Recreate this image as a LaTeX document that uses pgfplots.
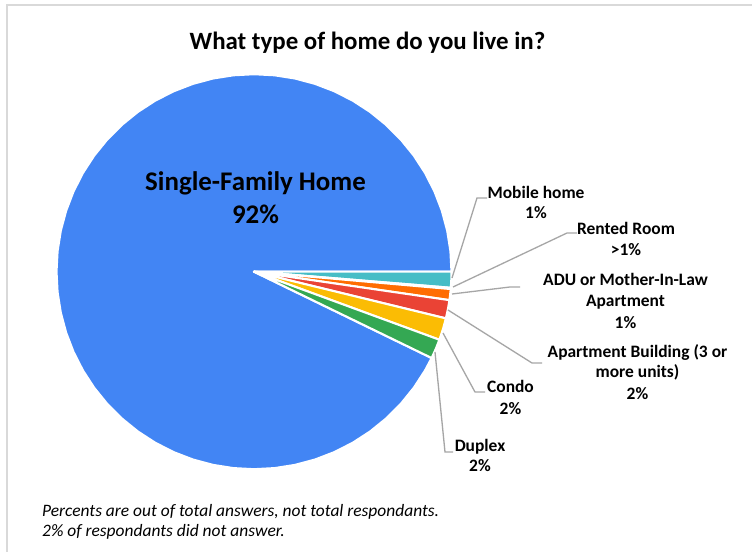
\documentclass[border=0pt]{standalone}
\usepackage{fontspec}
\setmainfont{Carlito}
\usepackage{pgfplots}
\usepgfplotslibrary{polar}
\pgfplotsset{compat=1.18}

\definecolor{cSFH}{HTML}{4285F4}
\definecolor{cMobile}{HTML}{46BDC6}
\definecolor{cRented}{HTML}{7BAAF7}
\definecolor{cADU}{HTML}{FF6D01}
\definecolor{cApt}{HTML}{EA4335}
\definecolor{cCondo}{HTML}{FBBC04}
\definecolor{cDuplex}{HTML}{34A853}
\definecolor{leader}{HTML}{A6A6A6}
\definecolor{frame}{HTML}{D9D9D9}

% one text line, centred on x, baseline at y (units = image pixels, y up)
\newcommand{\lbl}[4]{\node[anchor=base, inner sep=0pt, font=#1] at (#2,#3) {#4};}

\begin{document}
\begin{tikzpicture}
\fill[white] (0bp,0bp) rectangle (752bp,552bp);
\draw[frame, line width=2bp] (6.5bp,0bp) -- (6.5bp,546.5bp) -- (752bp,546.5bp);

% shares (%): single-family 92.8, mobile 1.3, rented 0.1, ADU 0.9,
% apartment bldg 1.5, condo 1.8, duplex 1.6 -> angles = cumulative * 3.6 deg
\begin{axis}[
    at={(254bp,280.3bp)}, anchor=center,
    x=197.5bp, y=197.5bp,
    xmin=-1.1, xmax=1.1, ymin=-1.1, ymax=1.1,
    hide axis, clip=false,
    data cs=polar,
    every axis plot/.append style={draw=white,
        line width=2.1bp, line join=round, mark=none},
    ]
    % Single-Family Home
    \addplot[fill=cSFH] coordinates {(0,0) (0,1) (6,1) (12,1) (18,1) (24,1)
        (30,1) (36,1) (42,1) (48,1) (54,1) (60,1) (66,1) (72,1) (78,1) (84,1)
        (90,1) (96,1) (102,1) (108,1) (114,1) (120,1) (126,1) (132,1) (138,1)
        (144,1) (150,1) (156,1) (162,1) (168,1) (174,1) (180,1) (186,1) (192,1)
        (198,1) (204,1) (210,1) (216,1) (222,1) (228,1) (234,1) (240,1) (246,1)
        (252,1) (258,1) (264,1) (270,1) (276,1) (282,1) (288,1) (294,1) (300,1)
        (306,1) (312,1) (318,1) (324,1) (330,1) (334.08,1)} -- cycle;
    % Mobile home
    \addplot[fill=cMobile] coordinates {(0,0) (0,1) (-2.34,1) (-4.68,1)} -- cycle;
    % Rented Room
    \addplot[fill=cRented] coordinates {(0,0) (-4.68,1) (-5.04,1)} -- cycle;
    % ADU or Mother-In-Law Apartment
    \addplot[fill=cADU] coordinates {(0,0) (-5.04,1) (-6.66,1) (-8.28,1)} -- cycle;
    % Apartment Building
    \addplot[fill=cApt] coordinates {(0,0) (-8.28,1) (-10.98,1) (-13.68,1)} -- cycle;
    % Condo
    \addplot[fill=cCondo] coordinates {(0,0) (-13.68,1) (-16.92,1) (-20.16,1)} -- cycle;
    % Duplex
    \addplot[fill=cDuplex] coordinates {(0,0) (-20.16,1) (-23.04,1) (-25.92,1)} -- cycle;
\end{axis}

\begin{scope}[x=1bp, y=1bp]
% leader lines
\begin{scope}[leader, line width=1.3bp]
\draw (452,274) -- (477,354) -- (487,354);
\draw (453,265) -- (567,319) -- (577,319);
\draw (452,258) -- (510,265) -- (520,265);
\draw (448,242) -- (532,189) -- (542,189);
\draw (443,219) -- (475,160) -- (485,160);
\draw (435,200) -- (445,100) -- (453,100);
\end{scope}

% title
\lbl{\bfseries\fontsize{25}{30}\selectfont}{367.5}{502}{What type of home do you live in?}

% main slice label
\lbl{\bfseries\fontsize{27}{32}\selectfont}{255.5}{362}{Single-Family Home}
\lbl{\bfseries\fontsize{27}{32}\selectfont}{255.5}{329}{92\%}

% small slice labels
\def\sl{\bfseries\fontsize{17.5}{20}\selectfont}
\lbl{\sl}{536}{353.7}{Mobile home}
\lbl{\sl}{536}{333.7}{1\%}
\lbl{\sl}{626}{318}{Rented Room}
\lbl{\sl}{626}{297}{>1\%}
\lbl{\sl}{625.5}{267}{ADU or Mother-In-Law}
\lbl{\sl}{625.5}{245.5}{Apartment}
\lbl{\sl}{625.5}{223.7}{1\%}
\lbl{\sl}{637.5}{194.7}{Apartment Building (3 or}
\lbl{\sl}{637.5}{174.5}{more units)}
\lbl{\sl}{637.5}{153}{2\%}
\lbl{\sl}{510.5}{159.3}{Condo}
\lbl{\sl}{510.5}{138}{2\%}
\lbl{\sl}{480}{100.3}{Duplex}
\lbl{\sl}{480}{80.3}{2\%}

% footnote
\node[anchor=base west, inner sep=0pt, font=\itshape\fontsize{17.5}{20}\selectfont] at (42,36) {Percents are out of total answers, not total respondants.};
\node[anchor=base west, inner sep=0pt, font=\itshape\fontsize{17.5}{20}\selectfont] at (42,16) {2\% of respondants did not answer.};
\end{scope}

\pgfresetboundingbox
\useasboundingbox (0bp,0bp) rectangle (752bp,552bp);
\end{tikzpicture}
\end{document}
